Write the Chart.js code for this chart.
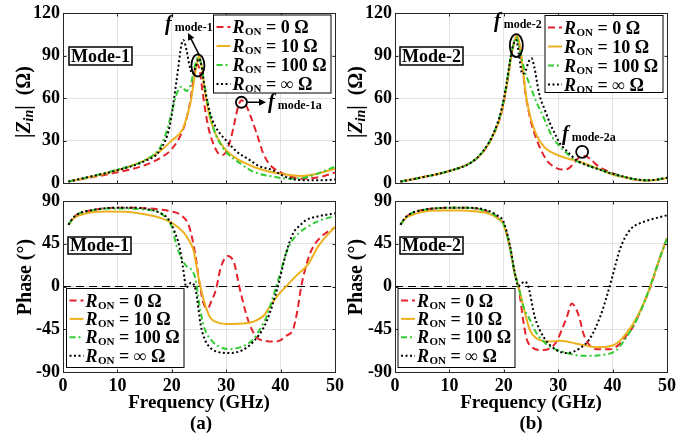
<!DOCTYPE html>
<html>
<head>
<meta charset="utf-8">
<script src="https://cdn.jsdelivr.net/npm/chart.js@4.4.1/dist/chart.umd.min.js"></script>
<style>
  body { margin: 0; background: #fff; }
  #wrap { position: relative; width: 699px; height: 439px; overflow: hidden; }
  canvas { position: absolute; }
</style>
</head>
<body>
<div id="wrap">
  <canvas id="magA" width="345" height="195" style="left:0;top:0"></canvas>
  <canvas id="magB" width="359" height="195" style="left:340px;top:0"></canvas>
  <canvas id="phA" width="345" height="251" style="left:0;top:188px"></canvas>
  <canvas id="phB" width="359" height="251" style="left:340px;top:188px"></canvas>
</div>
<script>
// ---- data ----
const legendValues = ['0', '10', '100', '\u221E'];
const freqTicks = [0, 10, 20, 30, 40, 50];
const magTicks = [0, 30, 60, 90, 120];
const phaseTicks = [-90, -45, 0, 45, 90];

// (a) |Zin|, Mode-1
const magA_f0 = [1, 5, 10, 15, 18, 20, 22, 23, 23.5, 24, 24.6, 25.1, 25.6, 26.2, 26.8, 27.5, 28.2, 28.9, 29.5, 30.2, 30.9, 31.6, 32.2, 32.8, 33.5, 34.5, 35.6, 36.8, 38, 39.5, 41.5, 44, 46, 48, 50];
const magA_z0 = [1, 3.8, 7.5, 12.5, 18, 24, 37, 50, 60, 74, 84, 80, 66, 50, 38, 29, 23, 20, 20, 24, 32, 44, 54, 58.5, 56, 47, 35, 21, 13, 8.5, 5, 3, 3.5, 5, 7.5];
const magA_f10 = [1, 5, 10, 15, 18, 20, 22, 23, 23.5, 24, 24.5, 25, 25.5, 26, 26.5, 27, 28, 29, 30, 32, 35, 38, 40, 42, 44, 46, 48, 50];
const magA_z10 = [1, 4.2, 9, 16, 23, 30, 38, 50, 58, 70, 82, 90, 82, 67, 55, 46, 35, 28, 23, 17, 11.5, 8, 6.5, 5.5, 5, 6, 8, 10];
const magA_f100 = [1, 5, 10, 15, 18, 19, 20, 20.5, 21, 21.8, 22.7, 23.5, 24.2, 24.8, 25.3, 25.8, 26.4, 27.2, 28.2, 29.2, 30.2, 32.5, 34, 36, 38.6, 40, 42, 44, 46, 48, 50];
const magA_z100 = [1, 4.5, 9.5, 16, 26, 36, 50, 58, 64, 68, 65, 70, 82, 89, 85, 74, 61, 45, 33, 26, 21, 14, 10, 6.5, 4.5, 3.5, 3, 3.5, 5.5, 8.5, 11.5];
const magA_fInf = [1, 5, 10, 15, 17.8, 19.6, 20.9, 21.8, 22.1, 22.7, 23.3, 23.8, 24.4, 25, 25.5, 26, 27, 28, 30, 32, 34.4, 36, 38.6, 40, 42, 44, 46, 48, 50];
const magA_zInf = [1, 4.5, 9, 15.5, 23, 40, 73, 98, 101, 94, 82, 77, 82, 88, 82, 68, 50, 40, 30, 22, 16, 12, 9, 6, 3, 2, 2, 2, 2.5];

// (b) |Zin|, Mode-2
const magB_f0 = [1, 5, 10, 14, 16.2, 18.1, 19.6, 20.5, 21.4, 22, 22.4, 22.9, 23.4, 24, 24.5, 25, 26, 27, 28, 29, 30, 31, 32, 33, 34, 35, 36, 37, 38.5, 40, 42, 44, 46, 48, 50];
const magB_z0 = [1, 4, 8.5, 14.5, 22, 34, 50, 68, 90, 101, 103.5, 97, 83, 63, 52, 43, 31, 22, 15.5, 12, 10, 9.5, 10.5, 14.5, 18.5, 19, 16.5, 13, 9.5, 7, 4.5, 2.5, 1.8, 2.2, 3.5];
const magB_f10 = [1, 5, 10, 14, 16.2, 18.1, 19.6, 20.5, 21.4, 22, 22.4, 22.9, 23.4, 24, 24.5, 25, 26, 27, 28, 30, 32, 34, 36, 38, 40, 42, 44, 46, 48, 50];
const magB_z10 = [1, 4, 8.5, 14.5, 22, 34, 50, 68, 90, 101, 104.5, 98, 84, 64, 53, 45, 34, 27.5, 23.5, 19.5, 17, 15, 12, 9, 6, 4, 2.5, 1.8, 2.2, 3.5];
const magB_f100 = [1, 5, 10, 14, 16.2, 18.1, 19.6, 20.5, 21.4, 22, 22.3, 22.8, 23.3, 23.9, 24.5, 25, 26, 27, 28, 29, 30, 31, 32, 33.4, 35, 38, 40, 42, 44, 46, 48, 50];
const magB_z100 = [1, 4, 8.5, 14.5, 22.5, 35, 52, 70, 92, 101, 103, 96, 88, 78, 72, 67, 57, 49, 40, 32, 27, 23, 19.5, 15.5, 13, 9, 6.5, 4.5, 2.8, 2, 2.3, 3.8];
const magB_fInf = [1, 5, 10, 14, 16.2, 18.1, 19.6, 20.5, 21.4, 22, 22.3, 22.8, 23.4, 24, 24.5, 25.1, 25.6, 26.5, 27.5, 28.5, 29.5, 30.3, 31, 32, 33.4, 35, 38, 40, 42, 44, 46, 48, 50];
const magB_zInf = [1, 4, 8.5, 14.5, 22.5, 35, 52, 70, 92, 100, 101, 90, 77, 79, 85, 88, 82, 63, 52, 42, 34, 28, 25, 21, 16, 13, 9, 6.5, 4.5, 2.8, 2, 2.3, 3.8];

// (a) phase, Mode-1
const phA_f0 = [1, 2, 3, 5, 8, 12, 15, 18, 20, 21.7, 23.2, 24.4, 25, 25.8, 26.6, 27.3, 28.1, 29, 30.3, 31.5, 32.4, 34, 35.5, 37, 38.6, 39.8, 41, 42.3, 43, 43.8, 45, 46, 48, 50];
const phA_p0 = [65, 73, 77, 80, 82.5, 83, 82.5, 81, 79, 75, 63, 31, 7, -17, -23, -15, -3.5, 20, 32, 24, 0, -35, -53, -57, -58, -57, -52, -45, -28, 0, 28, 42, 55, 62];
const phA_f10 = [1, 2, 3, 5, 8, 12, 15, 18, 20, 22, 23, 24, 25, 26, 27, 28, 30, 33, 35, 37, 38, 39, 40, 41, 43, 45, 47, 50];
const phA_p10 = [65, 72, 75, 78, 79, 78.5, 76, 72, 67, 58, 50, 38, 7, -17, -32, -37, -39.5, -39, -37, -30, -21, -13, -6, 0, 12, 23, 43, 63];
const phA_f100 = [1, 2, 3, 5, 8, 12, 15, 18, 19.5, 20.2, 20.7, 21.7, 22.6, 23.7, 24.4, 25, 25.9, 27.5, 29, 30.6, 33, 34.9, 36.5, 37.4, 38.5, 39.2, 40, 41, 42, 43.5, 45, 46.6, 48, 50];
const phA_p100 = [65, 73, 77, 80, 82, 82, 81, 77, 68, 60, 46, 31, 22, 17, 7, -17, -42, -58, -64, -66, -63, -56, -42, -32, -13, 0, 15, 35, 47, 57, 63, 68, 71, 74];
const phA_fInf = [1, 2, 3, 5, 8, 12, 15, 18, 19.5, 20.5, 21.4, 22, 22.7, 23.5, 24.4, 25.3, 26, 27, 28, 30.6, 33, 35, 37, 38, 39, 39.8, 41, 42.3, 43.5, 44.7, 47, 50];
const phA_pInf = [65, 73, 77, 80, 82.5, 83, 82, 77, 70, 58, 42, 22, -1, 4, -4, -40, -55, -64, -68, -70, -67, -58, -42, -28, -10, 7, 35, 56, 64, 70, 74, 77];

// (b) phase, Mode-2
const phB_f0 = [1, 2, 3, 5, 8, 12, 15, 17, 18, 19, 19.9, 21.1, 22, 22.7, 23.5, 24.2, 25.1, 26.7, 28.5, 29.7, 30.7, 31.6, 32.5, 33.4, 34, 34.6, 35.8, 37, 39.5, 41, 42.5, 43.8, 45.7, 47, 48.5, 50];
const phB_p0 = [65, 73, 77, 80.5, 82.5, 83, 82, 79, 76.5, 72, 66.5, 42, 14, 0, -33, -55, -63.5, -67, -65, -58, -45, -32, -18, -25, -35, -49, -62, -66, -66, -62, -52, -42, -18, 0, 27, 51];
const phB_f10 = [1, 2, 3, 5, 8, 12, 15, 17, 18, 19, 19.9, 21.1, 22, 22.7, 23.6, 24.8, 26, 27, 28.5, 30.3, 32, 34.6, 37, 39.5, 41, 42, 43.8, 45.7, 46.9, 48.5, 50];
const phB_p10 = [65, 72, 75, 78.5, 80, 80, 79, 77, 75, 71, 66, 42, 14, 0, -21, -46, -54.5, -57, -58, -57, -58.5, -61.6, -64, -63, -59, -53, -39, -18, 0, 27, 51];
const phB_f100 = [1, 2, 3, 5, 8, 12, 15, 17, 18, 19, 19.9, 21.1, 22, 22.7, 23.6, 24.8, 26, 27, 28.5, 30, 31.6, 34.6, 38.3, 40.7, 42, 43.2, 45, 46.9, 48.5, 50];
const phB_p100 = [65, 73, 77, 80.5, 82.5, 83, 82, 79, 76.5, 72, 66.5, 42, 14, 0, -21, -35, -49, -56, -63.6, -67, -70, -73, -72, -67, -58, -47.6, -28, 0, 27, 51];
const phB_fInf = [1, 2, 3, 5, 8, 12, 15, 17, 18, 19, 19.9, 21.1, 22, 22.7, 23, 23.9, 24.5, 25.7, 27.3, 29.7, 31.6, 34, 35.8, 37.7, 38.9, 39.8, 41.4, 43.2, 45.7, 48, 50];
const phB_pInf = [65, 73, 77, 80.5, 82.5, 83, 82.5, 80, 77.5, 74, 69, 44, 15, 0, 2, 5, 0, -32, -53, -67, -70, -65, -55, -32, -11, 7, 40, 59.5, 68, 72, 75];

const zeroLineF = [0, 50];
const zeroLineP = [0, 0];

// ---- styles ----
const SERIF = '"Liberation Serif", "Times New Roman", serif';
const seriesStyle = [
  { color: '#e3222b', dash: [7, 4] },        // 0 ohm
  { color: '#edb120', dash: [] },            // 10 ohm
  { color: '#33cc33', dash: [6, 3, 2, 3] },  // 100 ohm
  { color: '#000000', dash: [2, 2.5] }       // inf
];

function font(size, italic) {
  return (italic ? 'italic ' : '') + 'bold ' + size + 'px ' + SERIF;
}

function toPoints(xs, ys) {
  return xs.map((x, i) => ({ x: x, y: ys[i] }));
}

function buildDatasets(pairs, withZero) {
  // pairs in legend order (0, 10, 100, inf); draw red first, black on top
  const sets = pairs.map((p, i) => ({
    data: toPoints(p[0], p[1]),
    borderColor: seriesStyle[i].color,
    borderDash: seriesStyle[i].dash,
    borderWidth: 2,
    pointRadius: 0,
    cubicInterpolationMode: 'monotone',
    fill: false
  })).reverse();
  if (withZero) {
    sets.push({
      data: toPoints(zeroLineF, zeroLineP),
      borderColor: '#000',
      borderDash: [8, 5],
      borderWidth: 1.2,
      pointRadius: 0,
      fill: false
    });
  }
  return sets;
}

// ---- drawing helpers ----
function richWidth(ctx, parts) {
  let w = 0;
  parts.forEach(p => { ctx.font = font(p[1], p[2]); w += ctx.measureText(p[0]).width + (p[4] || 0); });
  return w;
}
function drawRich(ctx, x, y, parts) {
  let cx = x;
  ctx.textBaseline = 'alphabetic';
  ctx.textAlign = 'left';
  parts.forEach(p => {
    ctx.font = font(p[1], p[2]);
    ctx.fillText(p[0], cx, y + (p[3] || 0));
    cx += ctx.measureText(p[0]).width + (p[4] || 0);
  });
}
function drawCentered(ctx, cx, y, parts) {
  drawRich(ctx, cx - richWidth(ctx, parts) / 2, y, parts);
}
function drawRotated(ctx, bx, cy, parts) {
  ctx.save();
  ctx.translate(bx, cy);
  ctx.rotate(-Math.PI / 2);
  drawRich(ctx, -richWidth(ctx, parts) / 2, 0, parts);
  ctx.restore();
}
function drawModeBox(ctx, x, y, w, h, label) {
  ctx.fillStyle = '#fff';
  ctx.fillRect(x, y, w, h);
  ctx.strokeStyle = '#000';
  ctx.lineWidth = 1.5;
  ctx.setLineDash([]);
  ctx.strokeRect(x, y, w, h);
  ctx.fillStyle = '#000';
  drawCentered(ctx, x + w / 2, y + h - 3, [[label, 18, false]]);
}
function drawLegend(ctx, x, y, w, h, step) {
  ctx.fillStyle = '#fff';
  ctx.fillRect(x, y, w, h);
  ctx.strokeStyle = '#000';
  ctx.lineWidth = 1;
  ctx.setLineDash([]);
  ctx.strokeRect(x, y, w, h);
  legendValues.forEach((v, i) => {
    const cy = y + 12 + i * step;
    ctx.strokeStyle = seriesStyle[i].color;
    ctx.setLineDash(seriesStyle[i].dash);
    ctx.lineWidth = 2;
    ctx.beginPath();
    ctx.moveTo(x + 3, cy);
    ctx.lineTo(x + 17, cy);
    ctx.stroke();
    ctx.setLineDash([]);
    ctx.fillStyle = '#000';
    drawRich(ctx, x + 19, cy + 6, [['R', 18, true, 0, 0.5], ['ON', 11, false, 2], [' = ' + v + ' \u03A9', 18, false]]);
  });
}
function drawArrow(ctx, x1, y1, x2, y2) {
  const a = Math.atan2(y2 - y1, x2 - x1);
  ctx.strokeStyle = '#000';
  ctx.fillStyle = '#000';
  ctx.lineWidth = 1.5;
  ctx.setLineDash([]);
  ctx.beginPath();
  ctx.moveTo(x1, y1);
  ctx.lineTo(x2 - 5 * Math.cos(a), y2 - 5 * Math.sin(a));
  ctx.stroke();
  ctx.beginPath();
  ctx.moveTo(x2, y2);
  ctx.lineTo(x2 - 7 * Math.cos(a) + 3.5 * Math.sin(a), y2 - 7 * Math.sin(a) - 3.5 * Math.cos(a));
  ctx.lineTo(x2 - 7 * Math.cos(a) - 3.5 * Math.sin(a), y2 - 7 * Math.sin(a) + 3.5 * Math.cos(a));
  ctx.closePath();
  ctx.fill();
}
function drawEllipse(ctx, cx, cy, rx, ry) {
  ctx.strokeStyle = '#000';
  ctx.lineWidth = 1.8;
  ctx.setLineDash([]);
  ctx.beginPath();
  ctx.ellipse(cx, cy, rx, ry, 0, 0, Math.PI * 2);
  ctx.stroke();
}
function fLabel(ctx, x, y, sub) {
  ctx.fillStyle = '#000';
  drawRich(ctx, x, y, [['f', 20, true, 0, 3], [sub, 12, false, 1]]);
}

// decoration plugin: box, inner ticks and the annotations (page coordinates)
function decor(offX, offY, draw) {
  return {
    id: 'decor',
    afterDraw(chart) {
      const ctx = chart.ctx;
      const a = chart.chartArea;
      const xs = chart.scales.x, ys = chart.scales.y;
      ctx.save();
      ctx.strokeStyle = '#262626';
      ctx.lineWidth = 1;
      ctx.setLineDash([]);
      const L = Math.round(a.left) + 0.5, R = Math.round(a.right) + 0.5;
      const T = Math.round(a.top) + 0.5, B = Math.round(a.bottom) + 0.5;
      ctx.strokeRect(L, T, R - L, B - T);
      ctx.beginPath();
      xs.ticks.forEach(t => {
        const px = Math.round(xs.getPixelForValue(t.value)) + 0.5;
        ctx.moveTo(px, B); ctx.lineTo(px, B - 3);
        ctx.moveTo(px, T); ctx.lineTo(px, T + 3);
      });
      ys.ticks.forEach(t => {
        const py = Math.round(ys.getPixelForValue(t.value)) + 0.5;
        ctx.moveTo(L, py); ctx.lineTo(L + 3, py);
        ctx.moveTo(R, py); ctx.lineTo(R - 3, py);
      });
      ctx.stroke();
      ctx.translate(-offX, -offY);
      const at = (f, v) => ({ x: xs.getPixelForValue(f) + offX, y: ys.getPixelForValue(v) + offY });
      draw(ctx, at);
      ctx.restore();
    }
  };
}

function makeChart(id, cfg) {
  const tickFont = { family: SERIF, size: 18, weight: 'bold' };
  return new Chart(document.getElementById(id), {
    type: 'line',
    data: { datasets: cfg.datasets },
    options: {
      responsive: false,
      animation: false,
      devicePixelRatio: 1,
      layout: { padding: cfg.pad },
      plugins: { legend: { display: false }, tooltip: { enabled: false } },
      scales: {
        x: {
          type: 'linear', min: 0, max: 50,
          afterBuildTicks: s => { s.ticks = freqTicks.map(v => ({ value: v })); },
          ticks: { display: cfg.xTicks, font: tickFont, color: '#000', padding: 4, maxRotation: 0 },
          grid: { color: '#e2e2e2', drawTicks: false },
          border: { display: false },
          afterFit: s => { s.height = cfg.xH; s.paddingLeft = 0; s.paddingRight = 0; }
        },
        y: {
          type: 'linear', min: cfg.yTicks[0], max: cfg.yTicks[cfg.yTicks.length - 1],
          afterBuildTicks: s => { s.ticks = cfg.yTicks.map(v => ({ value: v })); },
          ticks: { font: tickFont, color: '#000', padding: 3 },
          grid: { color: '#e2e2e2', drawTicks: false },
          border: { display: false },
          afterFit: s => { s.width = cfg.yW; s.paddingTop = 0; s.paddingBottom = 0; }
        }
      }
    },
    plugins: [decor(cfg.offX, cfg.offY, cfg.draw)]
  });
}

const zTitle = [['|', 20, false], ['Z', 20, true], ['in', 14, true, 3], ['|', 20, false], ['  (\u03A9)', 20, false]];
const phTitle = [['Phase (\u00B0)', 20, false]];

makeChart('magA', {
  datasets: buildDatasets([[magA_f0, magA_z0], [magA_f10, magA_z10], [magA_f100, magA_z100], [magA_fInf, magA_zInf]], false),
  pad: { left: 0, top: 13, right: 10, bottom: 12 }, xH: 0, yW: 63, xTicks: false, yTicks: magTicks,
  offX: 0, offY: 0,
  draw(ctx, at) {
    ctx.fillStyle = '#000';
    drawRotated(ctx, 30, 102, zTitle);
    drawModeBox(ctx, 69, 47, 63, 18, 'Mode-1');
    drawLegend(ctx, 213.5, 15, 117.5, 78, 19);
    const e = at(24.8, 83);
    drawEllipse(ctx, e.x, e.y, 6.5, 11);
    drawArrow(ctx, e.x + 1, e.y - 11, 188, 33);
    fLabel(ctx, 165, 30, 'mode-1');
    const c = at(32.8, 57);
    drawEllipse(ctx, c.x, c.y, 5.5, 5.5);
    drawArrow(ctx, c.x + 5.5, c.y, 266, c.y);
    fLabel(ctx, 268, 108, 'mode-1a');
  }
});

makeChart('magB', {
  datasets: buildDatasets([[magB_f0, magB_z0], [magB_f10, magB_z10], [magB_f100, magB_z100], [magB_fInf, magB_zInf]], false),
  pad: { left: 0, top: 13, right: 32, bottom: 12 }, xH: 0, yW: 55, xTicks: false, yTicks: magTicks,
  offX: 340, offY: 0,
  draw(ctx, at) {
    ctx.fillStyle = '#000';
    drawRotated(ctx, 362, 102, zTitle);
    drawModeBox(ctx, 400, 47, 63, 18, 'Mode-2');
    drawLegend(ctx, 545, 15.5, 118, 77, 19);
    const e = at(22.3, 97);
    drawEllipse(ctx, e.x, e.y, 6.5, 11.5);
    fLabel(ctx, 494, 27, 'mode-2');
    const c = at(34.4, 22);
    drawEllipse(ctx, c.x, c.y, 6, 6);
    fLabel(ctx, 562, 140, 'mode-2a');
  }
});

makeChart('phA', {
  datasets: buildDatasets([[phA_f0, phA_p0], [phA_f10, phA_p10], [phA_f100, phA_p100], [phA_fInf, phA_pInf]], true),
  pad: { left: 0, top: 13, right: 10, bottom: 37 }, xH: 30, yW: 63, xTicks: true, yTicks: phaseTicks,
  offX: 0, offY: 188,
  draw(ctx) {
    ctx.fillStyle = '#000';
    drawRotated(ctx, 30.5, 277, phTitle);
    drawModeBox(ctx, 68, 237, 63, 17, 'Mode-1');
    drawLegend(ctx, 66.5, 288.5, 117.5, 79, 18.4);
    ctx.fillStyle = '#000';
    drawCentered(ctx, 199, 408, [['Frequency (GHz)', 19, false]]);
    drawCentered(ctx, 201, 429, [['(a)', 19, false]]);
  }
});

makeChart('phB', {
  datasets: buildDatasets([[phB_f0, phB_p0], [phB_f10, phB_p10], [phB_f100, phB_p100], [phB_fInf, phB_pInf]], true),
  pad: { left: 0, top: 13, right: 32, bottom: 37 }, xH: 30, yW: 55, xTicks: true, yTicks: phaseTicks,
  offX: 340, offY: 188,
  draw(ctx) {
    ctx.fillStyle = '#000';
    drawRotated(ctx, 362, 277, phTitle);
    drawModeBox(ctx, 400, 237, 63, 17, 'Mode-2');
    drawLegend(ctx, 398, 288.5, 117, 79, 18.4);
    ctx.fillStyle = '#000';
    drawCentered(ctx, 531, 408, [['Frequency (GHz)', 19, false]]);
    drawCentered(ctx, 531, 429, [['(b)', 19, false]]);
  }
});
</script>
</body>
</html>
